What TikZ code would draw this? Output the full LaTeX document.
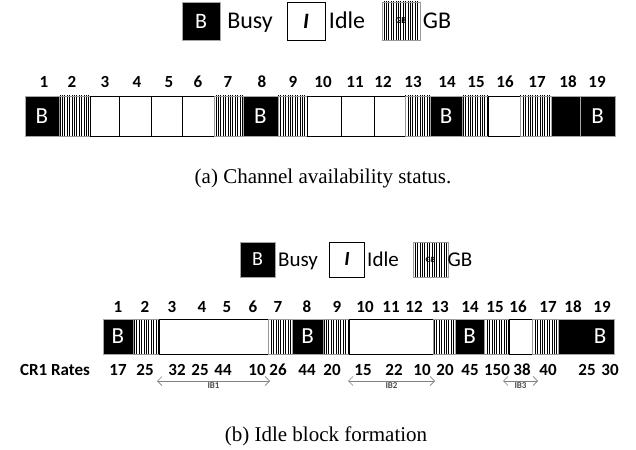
\documentclass[tikz,border=0pt]{standalone}
\usepackage{fontspec}
\setmainfont{Carlito}
\newfontfamily\capfont{Liberation Serif}
\usetikzlibrary{arrows.meta,positioning,patterns.meta}
\newcommand{\numfont}{\fontsize{17}{17}\selectfont\bfseries}
\newcommand{\cellfont}{\fontsize{23}{23}\selectfont}
\begin{document}
\begin{tikzpicture}[x=1pt, y=-1pt,
      cell/.style={inner sep=0pt, outer sep=0pt, line width=0.6pt},
      busy/.style={cell, fill=black, draw=gray!70, text=white, font=\cellfont},
      gb/.style={cell, draw=gray!80, pattern={Lines[angle=90,distance=2.4pt,line width=1pt]}},
      idle/.style={cell, fill=white, draw=black, line width=0.9pt},
      num/.style={anchor=base, inner sep=0pt, font=\numfont},
      legtext/.style={anchor=base, inner sep=0pt},
      ibarrow/.style={gray, line width=0.6pt, {Straight Barb[length=1.6mm]}-{Straight Barb[length=1.6mm]}},
      iblabel/.style={below, inner sep=1pt, text=black!70, font=\fontsize{9}{9}\selectfont\bfseries},
      caption/.style={anchor=base, inner sep=0pt, font=\capfont\fontsize{21}{21}\selectfont}]
    \useasboundingbox (0,0) rectangle (636,449);
    % (a) legend
    \node[busy, minimum size=38pt, font=\fontsize{22}{22}\selectfont] (lbusyA) at (201,21) {B};
    \node[legtext, font=\fontsize{24}{24}\selectfont] (lbusytxtA) at (250,29) {Busy};
    \node[idle, minimum size=38pt, font=\fontsize{22}{22}\selectfont\bfseries\itshape] (lidleA) at (306,21) {I};
    \node[legtext, font=\fontsize{24}{24}\selectfont] (lidletxtA) at (347,29) {Idle};
    \node[gb, minimum size=38pt, font=\fontsize{9}{9}\selectfont\bfseries] (lgbA) at (401,21) {GB};
    \node[legtext, font=\fontsize{24}{24}\selectfont] (lgbtxtA) at (437,29) {GB};
    % (a) channel numbers and status
    \foreach \n/\x in {1/44,2/72,3/105,4/137,5/169,6/198,7/228,8/262,9/293,10/323,
        11/355,12/383,13/413,14/447,15/476,16/505,17/537,18/568,19/597}
      \node[num] (na\n) at (\x,88) {\n};
    \foreach \i/\xa/\xb/\st/\t in {1/25/59/busy/B, 2/59/90/gb/, 3/90/119/idle/, 4/119/151/idle/,
        5/151/182/idle/, 6/182/214/idle/, 7/214/243/gb/, 8/243/278/busy/B, 9/278/307/gb/,
        10/307/341/idle/, 11/341/374/idle/, 12/374/405/idle/, 13/405/430/gb/, 14/430/462/busy/B,
        15/462/488/gb/, 16/488/520/idle/, 17/520/551/gb/, 18/551/580/busy/, 19/580/615/busy/B}
      \node[\st, minimum width={(\xb-\xa)*1pt}, minimum height=40pt] (a\i) at ({(\xa+\xb)/2},116) {\t};
    \node[caption] (capA) at (323,183) {(a) Channel availability status.};
    % (b) legend
    \node[busy, minimum size=35pt, font=\fontsize{20}{20}\selectfont] (lbusyB) at (257.5,259.5) {B};
    \node[legtext, font=\fontsize{21}{21}\selectfont] (lbusytxtB) at (298,266) {Busy};
    \node[idle, minimum size=35pt, font=\fontsize{20}{20}\selectfont\bfseries\itshape] (lidleB) at (347,259.5) {I};
    \node[legtext, font=\fontsize{21}{21}\selectfont] (lidletxtB) at (383,266) {Idle};
    \node[gb, minimum size=35pt, font=\fontsize{8}{8}\selectfont\bfseries] (lgbB) at (430.5,259.5) {GB};
    \node[legtext, font=\fontsize{21}{21}\selectfont] (lgbtxtB) at (460,266) {GB};
    % (b) idle blocks
    \foreach \n/\x in {1/118,2/145,3/172,4/202,5/227,6/253,7/278,8/307,9/337,10/365,
        11/391,12/414,13/440,14/470,15/495,16/518,17/548,18/573,19/602}
      \node[num] (nb\n) at (\x,312) {\n};
    \foreach \i/\xa/\xb/\st in {1/103/133/busy, 2/133/159/gb, 3/159/268/idle, 7/268/292/gb,
        8/292/323/busy, 9/323/349/gb, 10/349/433/idle, 13/433/455/gb, 14/455/484/busy,
        15/484/509/gb, 16/509/532/idle, 17/532/558/gb, 18/558/614/busy}
      \node[\st, minimum width={(\xb-\xa)*1pt}, minimum height=35pt] (b\i) at ({(\xa+\xb)/2},336.5) {};
    \node[text=white, font=\cellfont, inner sep=0pt] (bB1) at (b1) {B};
    \node[text=white, font=\cellfont, inner sep=0pt] (bB8) at (b8) {B};
    \node[text=white, font=\cellfont, inner sep=0pt] (bB14) at (b14) {B};
    \node[text=white, font=\cellfont, inner sep=0pt] (bB19) at (600,336.5) {B};
    % CR1 rates
    \node[num] (rates) at (55,375) {CR1 Rates};
    \foreach \r/\x [count=\k] in {17/118,25/145,32/177,25/200,44/223,10/257,26/278,44/307,
        20/332,15/363,22/394,10/422,20/445,45/470,150/497,38/522,40/548,25/587,30/610}
      \node[num] (r\k) at (\x,375) {\r};
    \coordinate (ib1s) at (157,381); \coordinate (ib1e) at (270,381);
    \coordinate (ib2s) at (348,381); \coordinate (ib2e) at (435,381);
    \coordinate (ib3s) at (503,381); \coordinate (ib3e) at (538,381);
    \draw[ibarrow] (ib1s) -- node[iblabel] {IB1} (ib1e);
    \draw[ibarrow] (ib2s) -- node[iblabel] {IB2} (ib2e);
    \draw[ibarrow] (ib3s) -- node[iblabel] {IB3} (ib3e);
    \node[caption] (capB) at (326,441) {(b) Idle block formation};
  \end{tikzpicture}
\end{document}
